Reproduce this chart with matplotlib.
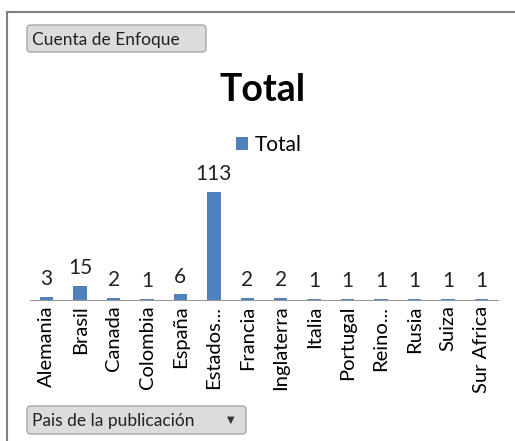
import matplotlib.pyplot as plt
from matplotlib.patches import FancyBboxPatch
from matplotlib.lines import Line2D

paises = ["Alemania", "Brasil", "Canada", "Colombia", "España", "Estados...",
          "Francia", "Inglaterra", "Italia", "Portugal", "Reino...", "Rusia",
          "Suiza", "Sur Africa"]
totales = [3, 15, 2, 1, 6, 113, 2, 2, 1, 1, 1, 1, 1, 1]

fuente = "Lato"
azul = "#4f81bd"

fig = plt.figure(figsize=(5.15, 4.41), dpi=100)
W, H = 515, 441

def fx(px):
    return px / W

def fy(py):
    return 1 - py / H

# marco gris
fig.add_artist(Line2D([fx(7), fx(7)], [fy(12), 0], color="#808080", lw=1.5))
fig.add_artist(Line2D([fx(7), 1], [fy(12), fy(12)], color="#808080", lw=1.5))

ax = fig.add_axes([fx(30), fy(300), fx(498) - fx(30), fy(180) - fy(300)])
x = range(len(paises))
barras = ax.bar(x, totales, width=0.4, color=azul, label="Total")
ax.set_ylim(0, 113 * 120 / 108)
ax.set_xlim(-0.5, len(paises) - 0.5)
for i, v in enumerate(totales):
    ax.text(i, v + 8, str(v), ha="center", va="bottom", fontsize=15,
            family=fuente, color="#222222")
ax.set_xticks(list(x))
ax.set_xticklabels(paises, rotation=90, fontsize=14.5, family=fuente)
ax.tick_params(axis="x", length=0, pad=4)
ax.set_yticks([])
for s in ["top", "right", "left"]:
    ax.spines[s].set_visible(False)
ax.spines["bottom"].set_color("#999999")
ax.set_clip_on(False)

fig.text(fx(263), fy(90), "Total", ha="center", va="center", fontsize=27,
         fontweight="bold", family=fuente)
leg = fig.legend(handles=[barras], labels=["Total"], loc="center",
                 bbox_to_anchor=(fx(269), fy(145)), frameon=False,
                 prop={"family": fuente, "size": 15}, handlelength=0.55,
                 handleheight=0.55, handletextpad=0.35)

# botones de la tabla dinamica
def boton(x0, y0, x1, y1, texto, flecha=False):
    caja = FancyBboxPatch((fx(x0), fy(y1)), fx(x1 - x0), fy(y0) - fy(y1),
                          boxstyle="round,pad=0,rounding_size=0.008",
                          transform=fig.transFigure, facecolor="#dcdcdc",
                          edgecolor="#a6a6a6", lw=1)
    fig.add_artist(caja)
    fig.text(fx(x0 + 5), fy((y0 + y1) / 2 + 1), texto, ha="left", va="center",
             fontsize=12.5, family=fuente, color="#222222")
    if flecha:
        fig.text(fx(x1 - 15), fy((y0 + y1) / 2), "▼", ha="center",
                 va="center", fontsize=7, family="DejaVu Sans", color="#333333")

boton(27, 25, 206, 52, "Cuenta de Enfoque")
boton(27, 406, 246, 434, "Pais de la publicación", flecha=True)

fig.savefig("out.png", dpi=100)
